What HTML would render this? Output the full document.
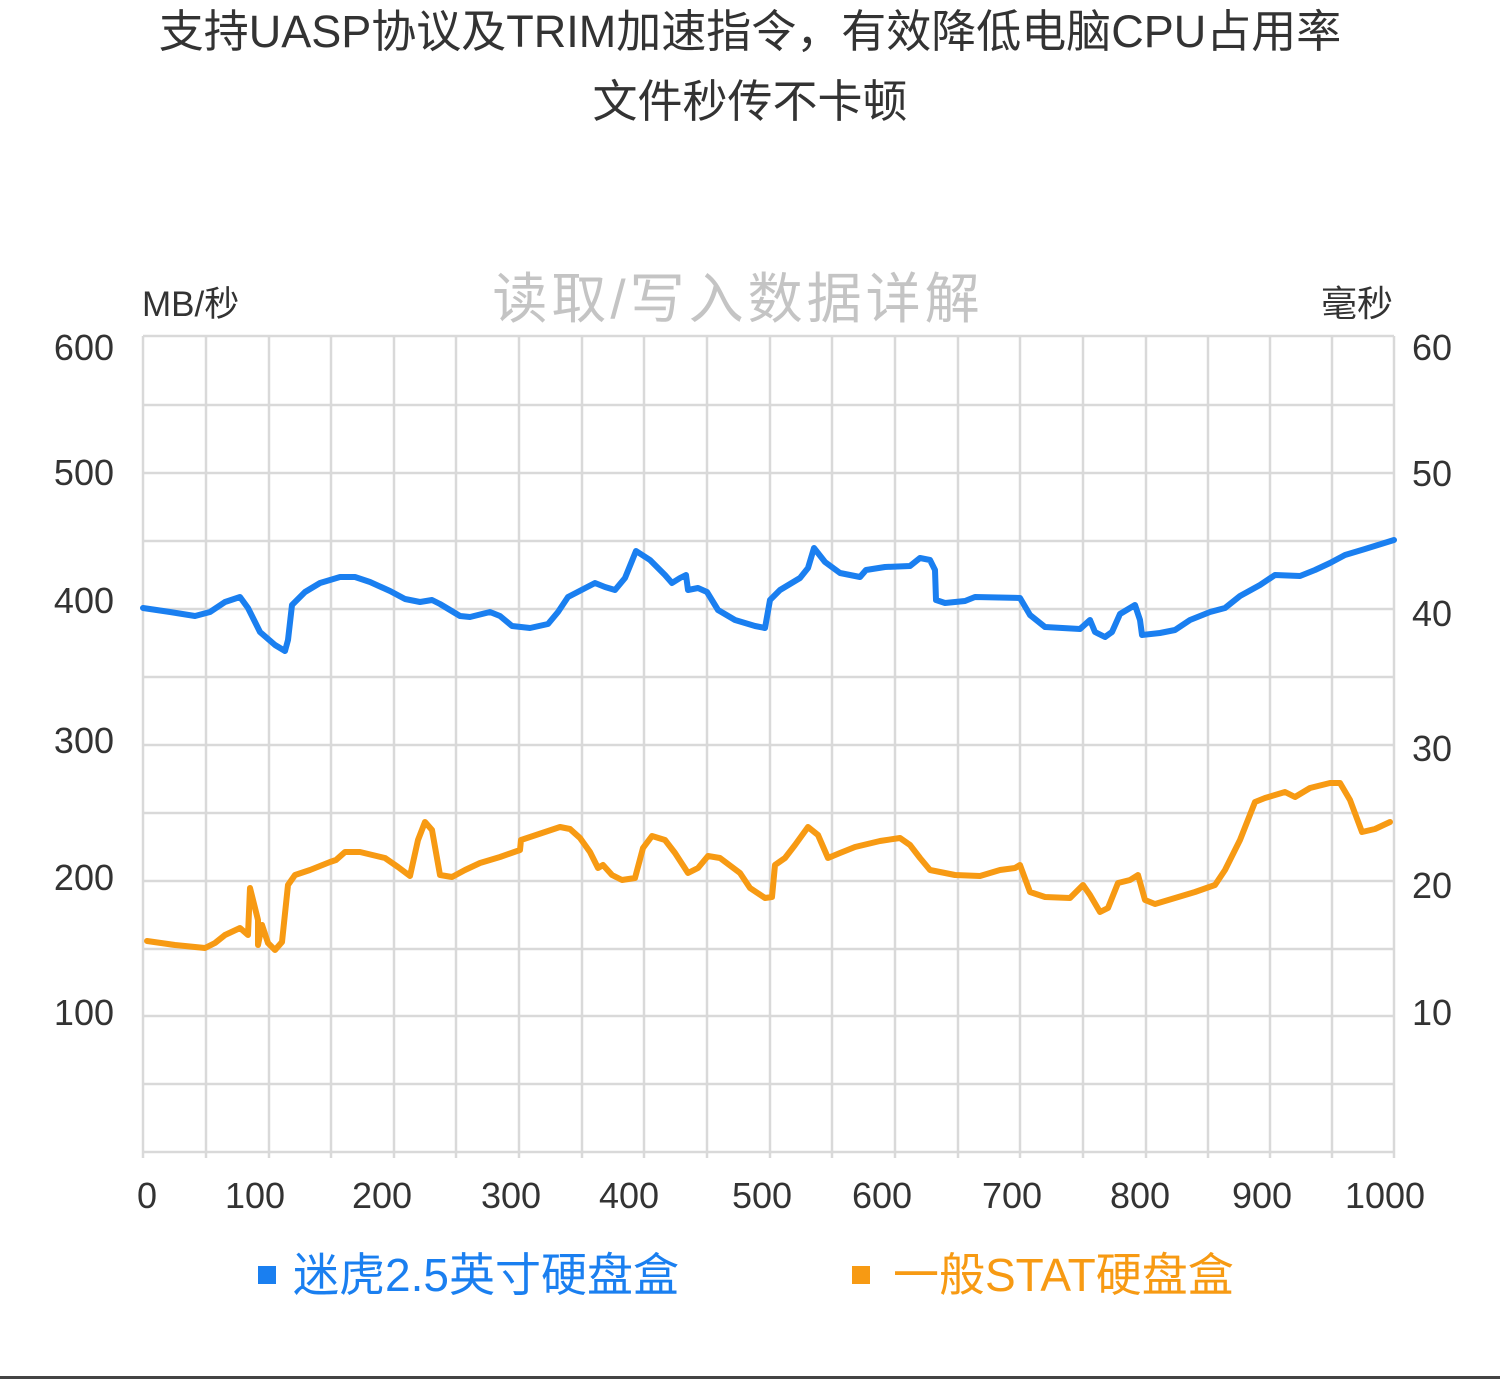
<!DOCTYPE html>
<html><head><meta charset="utf-8"><style>
html,body{margin:0;padding:0;background:#fff;width:1500px;height:1379px;overflow:hidden}
svg{display:block}
text{font-family:"Liberation Sans","Noto Sans CJK SC",sans-serif}
</style></head><body>
<svg width="1500" height="1379" viewBox="0 0 1500 1379" xmlns="http://www.w3.org/2000/svg">
<rect width="1500" height="1379" fill="#fff"/>
<text x="750" y="47" font-size="45" fill="#333" text-anchor="middle">支持UASP协议及TRIM加速指令，有效降低电脑CPU占用率</text>
<text x="750" y="117" font-size="45" fill="#333" text-anchor="middle">文件秒传不卡顿</text>
<text x="738" y="318" font-size="55" fill="#c4c4c4" text-anchor="middle" letter-spacing="4">读取/写入数据详解</text>
<text x="142" y="316" font-size="35" fill="#333">MB/秒</text>
<text x="1393" y="316" font-size="36" fill="#333" text-anchor="end">毫秒</text>
<g stroke="#d9d9d9" stroke-width="2.5" fill="none">
<path d="M143 336H1394M143 405H1394M143 473H1394M143 541H1394M143 609H1394M143 677H1394M143 745H1394M143 813H1394M143 881H1394M143 949H1394M143 1016H1394M143 1084H1394M143 1152H1394"/>
<path d="M143 336V1158M206 336V1158M269 336V1158M331 336V1158M394 336V1158M456 336V1158M519 336V1158M582 336V1158M644 336V1158M707 336V1158M770 336V1158M832 336V1158M895 336V1158M958 336V1158M1020 336V1158M1083 336V1158M1146 336V1158M1208 336V1158M1270 336V1158M1332 336V1158M1394 336V1158"/>
</g>
<g font-size="36" fill="#333" text-anchor="end">
<text x="114" y="360">600</text><text x="114" y="485">500</text><text x="114" y="613">400</text><text x="114" y="753">300</text><text x="114" y="890">200</text><text x="114" y="1025">100</text>
</g>
<g font-size="36" fill="#333">
<text x="1412" y="360">60</text><text x="1412" y="486">50</text><text x="1412" y="626">40</text><text x="1412" y="761">30</text><text x="1412" y="898">20</text><text x="1412" y="1025">10</text>
</g>
<g font-size="36" fill="#333" text-anchor="middle">
<text x="147" y="1208">0</text><text x="255" y="1208">100</text><text x="382" y="1208">200</text><text x="511" y="1208">300</text><text x="629" y="1208">400</text><text x="762" y="1208">500</text><text x="882" y="1208">600</text><text x="1012" y="1208">700</text><text x="1140" y="1208">800</text><text x="1262" y="1208">900</text><text x="1385" y="1208">1000</text>
</g>
<polyline fill="none" stroke="#1a7ff0" stroke-width="6" stroke-linejoin="round" stroke-linecap="round" points="143,608 170,612 195,616 210,612 225,602 240,597 248,608 260,632 275,645 285,651 288,640 292,605 305,592 320,583 340,577 355,577 370,582 390,591 405,599 420,602 432,600 440,604 460,616 470,617 490,612 500,616 512,626 530,628 548,624 558,612 568,597 595,583 605,587 615,590 625,578 636,551 650,560 665,575 672,583 680,578 686,575 688,590 698,588 707,592 718,610 735,620 755,626 765,628 770,600 780,590 800,578 808,568 814,548 825,562 840,573 860,577 866,570 885,567 910,566 920,558 930,560 935,570 936,600 945,603 965,601 975,597 1020,598 1030,615 1045,627 1080,629 1090,620 1095,632 1105,637 1112,632 1120,614 1135,605 1140,620 1142,635 1160,633 1175,630 1190,620 1210,612 1225,608 1240,596 1260,585 1275,575 1300,576 1315,570 1330,563 1345,555 1365,549 1394,540"/>
<polyline fill="none" stroke="#f79a13" stroke-width="6" stroke-linejoin="round" stroke-linecap="round" points="147,941 175,945 205,948 215,943 225,935 240,928 248,935 250,888 258,920 258,945 262,925 268,943 275,950 282,942 288,885 295,875 310,870 330,862 336,860 345,852 360,852 385,858 398,867 410,876 418,840 425,822 432,830 440,875 452,877 465,870 480,863 500,857 520,850 521,840 545,832 560,827 570,829 580,838 590,852 598,868 603,865 612,875 622,880 635,878 643,848 652,836 665,840 675,853 688,873 698,868 708,856 720,858 740,873 750,888 765,898 772,897 775,865 785,858 795,845 808,827 818,835 828,858 840,853 855,847 880,841 900,838 910,845 920,858 930,870 955,875 980,876 1000,870 1015,868 1020,865 1030,892 1045,897 1070,898 1083,885 1090,895 1100,912 1108,908 1118,883 1130,880 1138,875 1145,900 1155,904 1175,898 1195,892 1215,885 1225,870 1240,840 1255,802 1265,798 1285,792 1295,797 1310,788 1330,783 1340,783 1350,800 1362,832 1375,829 1390,822"/>
<rect x="258" y="1266" width="18" height="18" fill="#1a7ff0"/>
<text x="293" y="1291" font-size="46" fill="#1a7ff0">迷虎2.5英寸硬盘盒</text>
<rect x="852" y="1266" width="18" height="18" fill="#f79a13"/>
<text x="893" y="1291" font-size="46" fill="#f79a13">一般STAT硬盘盒</text>
<rect x="0" y="1376" width="1500" height="3" fill="#444"/>
</svg>
</body></html>
